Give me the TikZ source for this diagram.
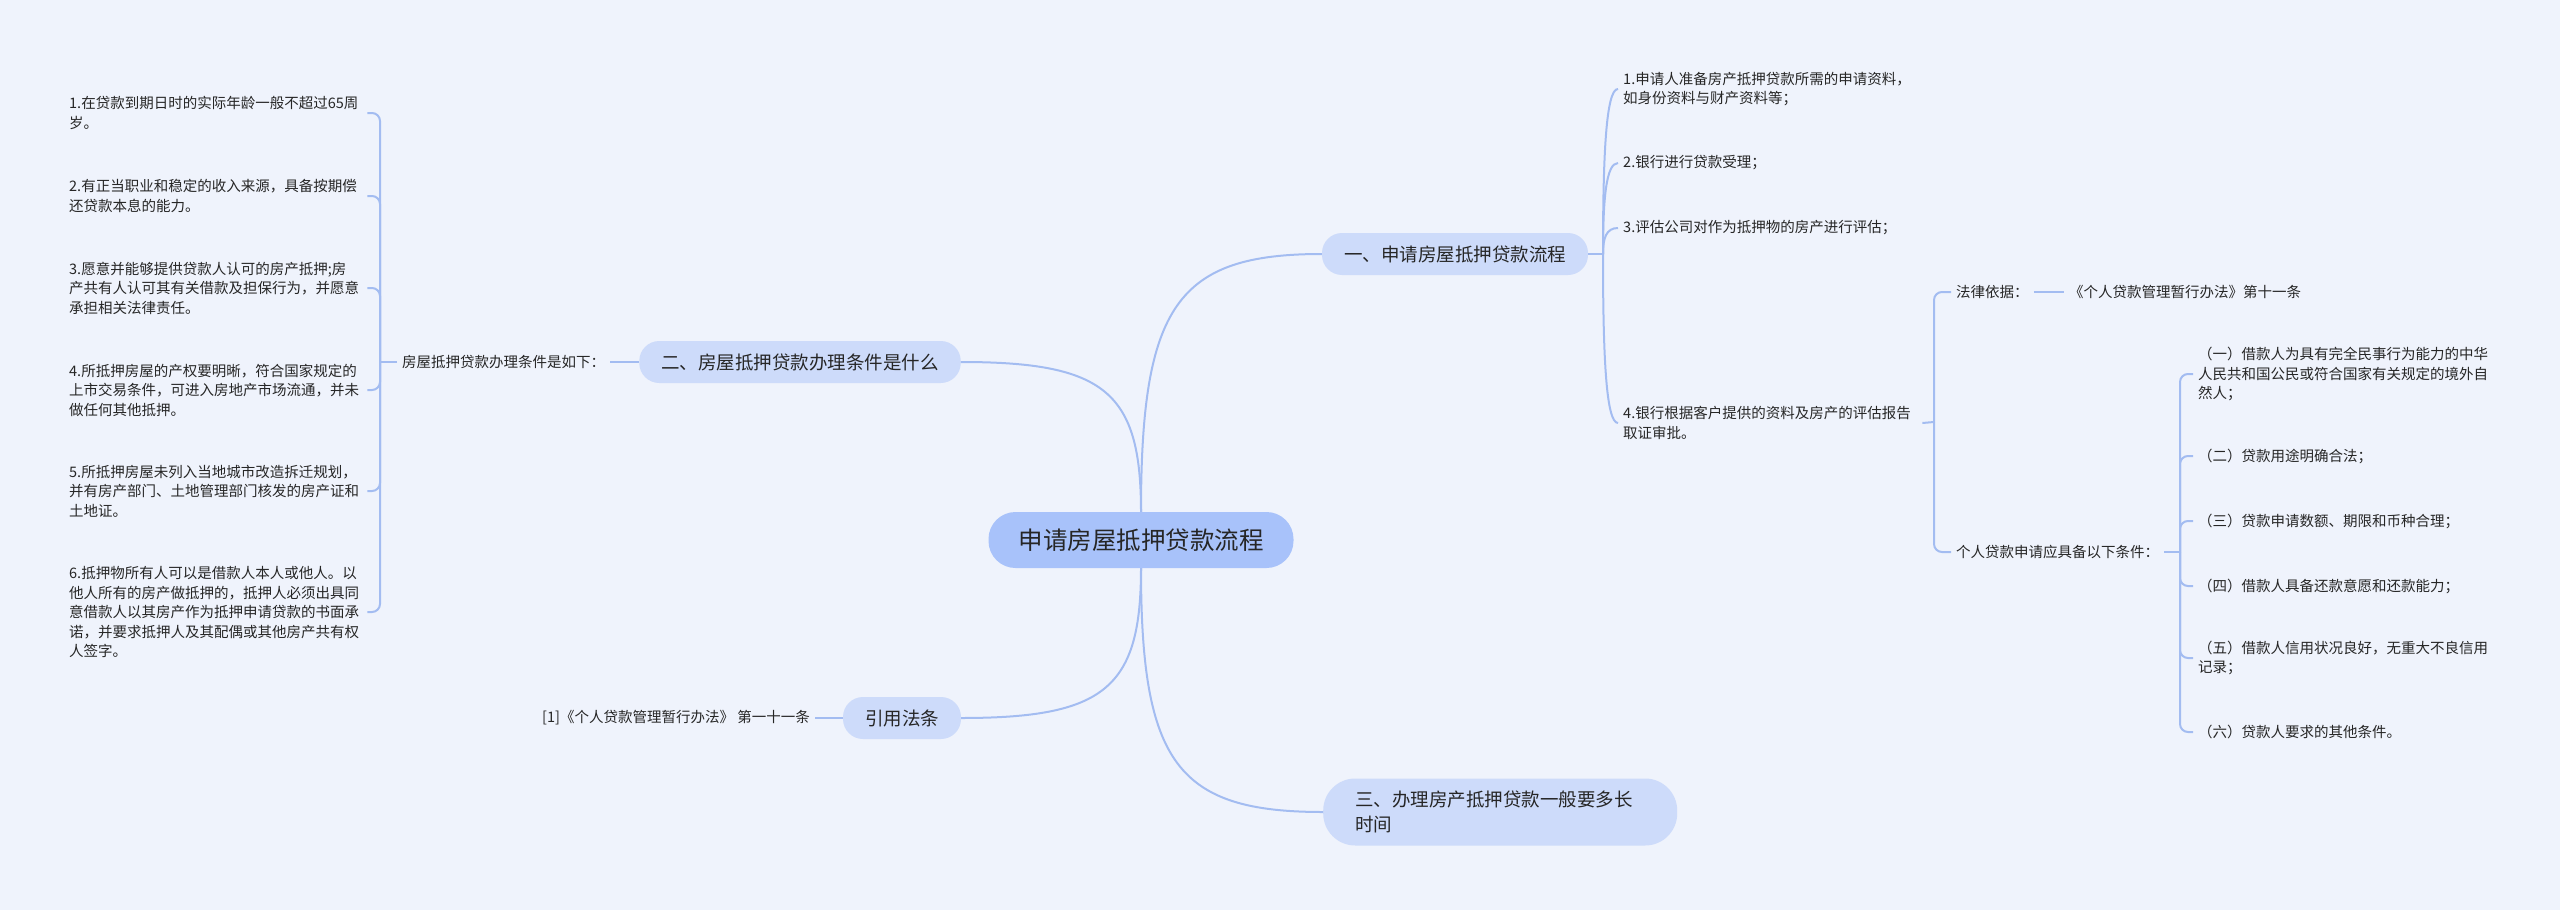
\documentclass[tikz,border=0pt]{standalone}
\usepackage{fontspec}
\newfontfamily\cjk{Noto Sans CJK SC}
\usetikzlibrary{calc}

\definecolor{fondo}{RGB}{239,243,252}
\definecolor{raiz}{RGB}{168,194,250}
\definecolor{rama}{RGB}{205,219,250}
\definecolor{linea}{RGB}{163,188,241}
\definecolor{texto}{RGB}{38,38,38}

\tikzset{
  link/.style={draw=linea, line width=2pt},
  rootbox/.style={fill=raiz, rounded corners=27pt, inner xsep=30pt, inner ysep=0pt,
    minimum height=56pt, text=texto, font=\cjk\fontsize{24.5}{30}\selectfont},
  pill/.style={fill=rama, rounded corners=20pt, inner xsep=22pt, inner ysep=0pt,
    minimum height=42pt, text=texto, font=\cjk\fontsize{18.5}{25}\selectfont},
  leaf/.style={inner xsep=5pt, inner ysep=2pt, align=left, text=texto,
    font=\cjk\fontsize{14.5}{19.5}\selectfont},
}

\begin{document}
\begin{tikzpicture}[x=1pt,y=-1pt]
    % Parámetros
    \def\tx{380}     % llave izquierda
    \def\ox{1603}    % llave de la rama uno
    \def\fx{1934}    % llave del punto 4
    \def\rx{2180}    % llave de las condiciones
    \def\k{.8}       % curvatura de las ramas

    % Fondo
    \useasboundingbox (0,0) rectangle (2560,910);
    \fill[fondo] (0,0) rectangle (2560,910);

    % Nodo central y ramas
    \node[rootbox] (root) at (1141,540) {申请房屋抵押贷款流程};
    \node[pill] (one) at (1455,254) {一、申请房屋抵押贷款流程};
    \node[pill] (two) at (800,362) {二、房屋抵押贷款办理条件是什么};
    \node[pill, anchor=west, align=left, text width=290pt, inner xsep=32pt,
      minimum height=67pt, rounded corners=32pt] (three) at (1323,812)
      {三、办理房产抵押贷款一般要多长\\时间};
    \node[pill] (cite) at (902,718) {引用法条};

    % Rama dos
    \node[leaf, anchor=west] (twolbl) at (397,362) {房屋抵押贷款办理条件是如下：};
    \node[leaf, text width=293pt, anchor=west] (c1) at (64,113)
      {1.在贷款到期日时的实际年龄一般不超过65周\\岁。};
    \node[leaf, text width=293pt, anchor=west] (c2) at (64,196)
      {2.有正当职业和稳定的收入来源，具备按期偿\\还贷款本息的能力。};
    \node[leaf, text width=293pt, anchor=west] (c3) at (64,288)
      {3.愿意并能够提供贷款人认可的房产抵押;房\\产共有人认可其有关借款及担保行为，并愿意\\承担相关法律责任。};
    \node[leaf, text width=293pt, anchor=west] (c4) at (64,390)
      {4.所抵押房屋的产权要明晰，符合国家规定的\\上市交易条件，可进入房地产市场流通，并未\\做任何其他抵押。};
    \node[leaf, text width=293pt, anchor=west] (c5) at (64,491)
      {5.所抵押房屋未列入当地城市改造拆迁规划，\\并有房产部门、土地管理部门核发的房产证和\\土地证。};
    \node[leaf, text width=293pt, anchor=west] (c6) at (64,612)
      {6.抵押物所有人可以是借款人本人或他人。以\\他人所有的房产做抵押的，抵押人必须出具同\\意借款人以其房产作为抵押申请贷款的书面承\\诺，并要求抵押人及其配偶或其他房产共有权\\人签字。};

    % Rama uno
    \node[leaf, text width=294pt, anchor=west] (p1) at (1618,89)
      {1.申请人准备房产抵押贷款所需的申请资料，\\如身份资料与财产资料等；};
    \node[leaf, text width=294pt, anchor=west] (p2) at (1618,163) {2.银行进行贷款受理；};
    \node[leaf, text width=294pt, anchor=west] (p3) at (1618,228) {3.评估公司对作为抵押物的房产进行评估；};
    \node[leaf, text width=294pt, anchor=west] (p4) at (1618,423)
      {4.银行根据客户提供的资料及房产的评估报告\\取证审批。};
    \node[leaf, anchor=west] (law) at (1951,292) {法律依据：};
    \node[leaf, anchor=west] (lawref) at (2064,292) {《个人贷款管理暂行办法》第十一条};
    \node[leaf, anchor=west] (req) at (1951,552) {个人贷款申请应具备以下条件：};
    \node[leaf, text width=296pt, anchor=west] (r1) at (2193,374)
      {（一）借款人为具有完全民事行为能力的中华\\人民共和国公民或符合国家有关规定的境外自\\然人；};
    \node[leaf, text width=296pt, anchor=west] (r2) at (2193,456) {（二）贷款用途明确合法；};
    \node[leaf, text width=296pt, anchor=west] (r3) at (2193,521) {（三）贷款申请数额、期限和币种合理；};
    \node[leaf, text width=296pt, anchor=west] (r4) at (2193,586) {（四）借款人具备还款意愿和还款能力；};
    \node[leaf, text width=296pt, anchor=west] (r5) at (2193,658)
      {（五）借款人信用状况良好，无重大不良信用\\记录；};
    \node[leaf, text width=296pt, anchor=west] (r6) at (2193,732) {（六）贷款人要求的其他条件。};

    % Cita
    \node[leaf, anchor=east] (citeref) at (815,718) {[1]《个人贷款管理暂行办法》 第一十一条};

    % Puntos de las llaves
    \coordinate (tj) at (\tx,362);
    \coordinate (oj) at (\ox,254);
    \coordinate (fj) at (\fx,422);
    \coordinate (rj) at (\rx,552);

    % Conexiones del nodo central
    \foreach \a/\b in {north/one.west, north/two.east, south/three.west, south/cite.east}
      \draw[link] (root.\a) .. controls ($(root.\a)!\k!(root.\a |- \b)$)
        and ($(\b)!\k!(root.\a |- \b)$) .. (\b);

    % Llave de la rama uno
    \draw[link] (one.east) -- (oj);
    \foreach \n in {p1,p2,p3,p4}
      \draw[link] (oj) .. controls ($(oj)!.6!(oj |- \n.west)$) and ($(\n.west)+(-12,0)$) .. (\n.west);

    % Llave de la rama dos
    \draw[link] (two.west) -- (twolbl.east);
    \draw[link] (twolbl.west) -- (tj);
    \foreach \i in {1,...,6}
      \draw[link, rounded corners=8pt] (tj) |- (c\i.east);

    % Llaves del punto 4
    \draw[link] (p4.east) -- (fj);
    \foreach \n in {law,req}
      \draw[link, rounded corners=8pt] (fj) |- (\n.west);
    \draw[link] (law.east) -- (lawref.west);
    \draw[link] (req.east) -- (rj);
    \foreach \i in {1,...,6}
      \draw[link, rounded corners=8pt] (rj) |- (r\i.west);

    % Cita
    \draw[link] (cite.west) -- (citeref.east);
\end{tikzpicture}
\end{document}
